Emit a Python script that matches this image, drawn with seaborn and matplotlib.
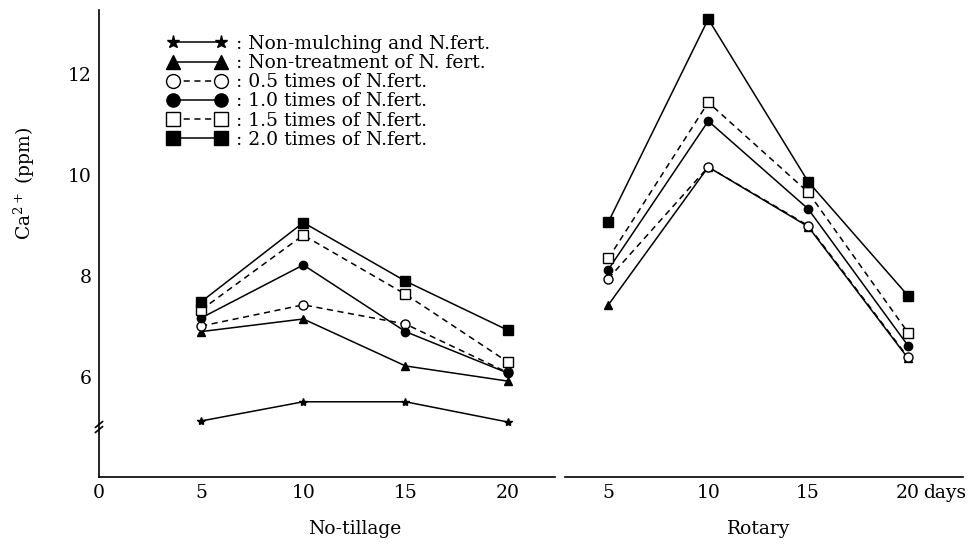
import matplotlib
matplotlib.use("Agg")
import matplotlib.pyplot as plt
from matplotlib.lines import Line2D
from matplotlib.transforms import blended_transform_factory
import pandas as pd
import seaborn as sns

# Sampling days after treatment
days = [5, 10, 15, 20]

# Ca2+ (ppm) under no-tillage
nt_nonmulch = [5.13, 5.51, 5.51, 5.11]
nt_nontreat = [6.90, 7.15, 6.22, 5.92]
nt_half = [7.01, 7.43, 7.05, 6.09]
nt_one = [7.17, 8.22, 6.90, 6.08]
nt_onehalf = [7.33, 8.81, 7.64, 6.30]
nt_two = [7.49, 9.06, 7.90, 6.93]

# Ca2+ (ppm) under rotary tillage
ro_nontreat = [7.43, 10.16, 8.98, 6.37]
ro_half = [7.95, 10.16, 9.00, 6.39]
ro_one = [8.13, 11.07, 9.33, 6.62]
ro_onehalf = [8.35, 11.44, 9.66, 6.88]
ro_two = [9.07, 13.09, 9.87, 7.61]

treatments = ["nonmulch", "nontreat", "half", "one", "onehalf", "two"]
legend_labels = [
    ": Non-mulching and N.fert.",
    ": Non-treatment of N. fert.",
    ": 0.5 times of N.fert.",
    ": 1.0 times of N.fert.",
    ": 1.5 times of N.fert.",
    ": 2.0 times of N.fert.",
]

panels = {
    "No-tillage": dict(zip(treatments, [nt_nonmulch, nt_nontreat, nt_half, nt_one, nt_onehalf, nt_two])),
    "Rotary": dict(zip(treatments[1:], [ro_nontreat, ro_half, ro_one, ro_onehalf, ro_two])),
}

rows = []
for tillage, series in panels.items():
    for trt, vals in series.items():
        for d, v in zip(days, vals):
            rows.append({"tillage": tillage, "treatment": trt, "day": d, "ca": v})
df = pd.DataFrame(rows)

dash = (0, (4, 3))
styles = {
    "nonmulch": dict(marker="*", ms=6, mfc="black", ls="-"),
    "nontreat": dict(marker="^", ms=6, mfc="black", ls="-"),
    "half": dict(marker="o", ms=6.5, mfc="white", ls=dash),
    "one": dict(marker="o", ms=6, mfc="black", ls="-"),
    "onehalf": dict(marker="s", ms=7, mfc="white", ls=dash),
    "two": dict(marker="s", ms=6.5, mfc="black", ls="-"),
}

sns.set_theme(style="white")
plt.rcParams["font.family"] = ["DejaVu Serif"]
plt.rcParams["mathtext.fontset"] = "dejavuserif"
plt.rcParams["text.color"] = "black"
plt.rcParams["axes.labelcolor"] = "black"

FS = 13.5

fig = plt.figure(figsize=(9.7, 5.45), dpi=100)
ax1 = fig.add_axes([99 / 970, 68 / 545, 456 / 970, 467 / 545])
ax2 = fig.add_axes([565 / 970, 68 / 545, 398 / 970, 467 / 545])

for ax, tillage in [(ax1, "No-tillage"), (ax2, "Rotary")]:
    sub = df[df["tillage"] == tillage]
    for trt in treatments:
        s = sub[sub["treatment"] == trt]
        if s.empty:
            continue
        st = styles[trt]
        sns.lineplot(data=s, x="day", y="ca", ax=ax, color="black", lw=1.1,
                     linestyle=st["ls"], marker=st["marker"], markersize=st["ms"],
                     markerfacecolor=st["mfc"], markeredgecolor="black",
                     markeredgewidth=1.0, legend=False)
    ax.set_ylim(4.02, 13.27)
    ax.set_xlabel("")
    ax.set_ylabel("")
    for side in ["top", "right"]:
        ax.spines[side].set_visible(False)
    ax.spines["bottom"].set_linewidth(1.2)
    ax.spines["bottom"].set_color("black")
    ax.tick_params(axis="both", direction="in", length=4, width=1.2,
                   colors="black", labelsize=FS, pad=5)
    # panel title centred under the sampling days
    trans = blended_transform_factory(ax.transData, ax.transAxes)
    ax.text(sum(days[::3]) / 2, -0.093, tillage, transform=trans, ha="center",
            va="top", fontsize=FS)

# left panel axes
ax1.set_xlim(0, 22.32)
ax1.set_xticks([0, 5, 10, 15, 20])
ax1.set_xticklabels(["0", "5", "10", "15", "20"])
ax1.set_yticks([6, 8, 10, 12])
ax1.spines["left"].set_linewidth(1.2)
ax1.spines["left"].set_color("black")
ax1.set_ylabel("Ca$^{2+}$ (ppm)", fontsize=FS)
ax1.yaxis.set_label_coords(-0.136, 0.63)

# axis break marks on the y axis
for off in (0.0, 0.1):
    ax1.plot([-0.18, 0.18], [4.9 + off, 5.02 + off], color="black", lw=1.2,
             clip_on=False)

# right panel axes
ax2.set_xlim(2.83, 22.75)
ax2.set_xticks(days)
ax2.set_xticklabels(["5", "10", "15", "20"])
ax2.spines["left"].set_visible(False)
ax2.set_yticks([])
ax2.annotate("days", xy=(20, 0), xycoords=("data", "axes fraction"),
             xytext=(11, -5), textcoords="offset points", ha="left", va="top",
             fontsize=FS)

handles = []
for trt in treatments:
    st = styles[trt]
    handles.append(Line2D([0], [0], color="black", lw=1.1, linestyle=st["ls"],
                          marker=st["marker"], markersize=st["ms"] + 3.5,
                          markerfacecolor=st["mfc"], markeredgecolor="black",
                          markeredgewidth=1.0))
fig.legend(handles, legend_labels, loc="upper left",
           bbox_to_anchor=(167 / 970, 1 - 35 / 545), bbox_transform=fig.transFigure,
           frameon=False, numpoints=2, handlelength=3.2, handletextpad=0.5,
           labelspacing=0.06, borderpad=0, borderaxespad=0, fontsize=FS)

fig.savefig("out.png", dpi=100)
